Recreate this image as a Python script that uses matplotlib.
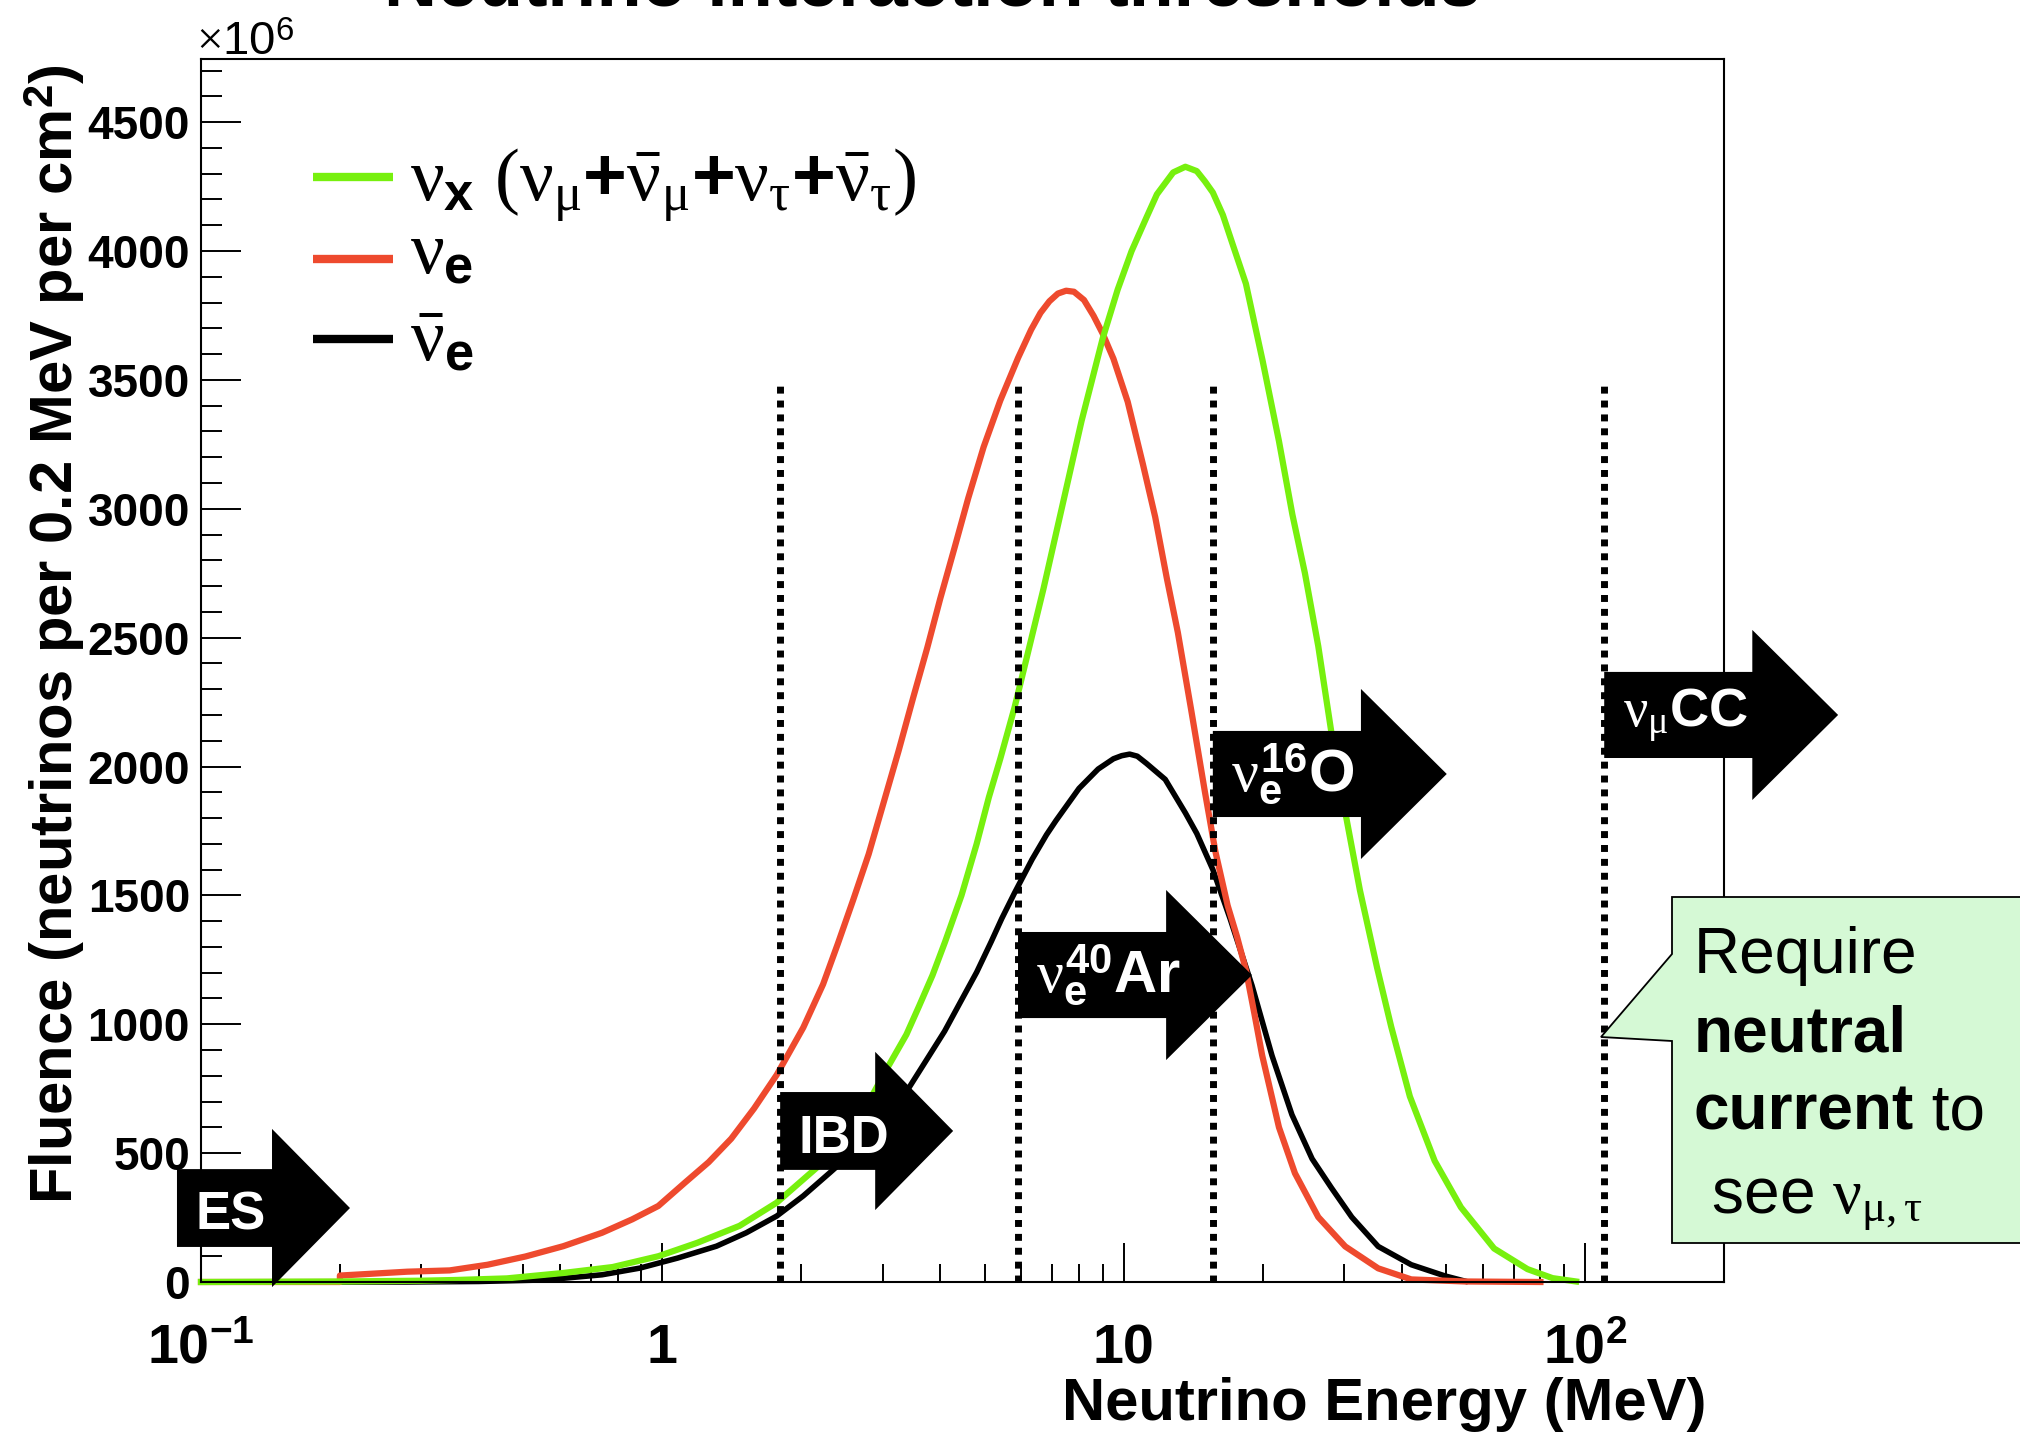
import matplotlib
matplotlib.use('Agg')
import matplotlib.pyplot as plt
from matplotlib.patches import Polygon
from matplotlib.lines import Line2D
from matplotlib.text import Annotation
from matplotlib.ticker import FixedLocator, MultipleLocator, NullFormatter
from matplotlib import font_manager

# --- values (E in MeV, fluence in 1e6 per 0.2 MeV per cm^2) ---
nux_E = [0.1, 0.2, 0.3, 0.36, 0.46, 0.61, 0.78, 0.98, 1.19, 1.47,
         1.77, 1.91, 2.23, 2.49, 2.80, 3.07, 3.38, 3.6, 3.85, 4.1,
         4.45, 4.8, 5.1, 5.4, 5.8, 6.1, 6.7, 7.4, 8.1, 9.0,
         9.7, 10.4, 11.2, 11.8, 12.8, 13.6, 14.4, 15.0, 15.6, 16.4,
         17.2, 18.4, 20.0, 21.7, 23.2, 24.7, 26.4, 28.2, 30.3, 32.5,
         35.4, 38.0, 41.7, 47.2, 53.8, 63.5, 75.0, 85.0, 95.6]
nux_F = [0, 2, 5, 8, 14, 35, 58, 100, 152, 218,
         308, 360, 465, 569, 699, 829, 960, 1070, 1190, 1320,
         1500, 1700, 1880, 2030, 2230, 2390, 2690, 3030, 3340, 3660,
         3850, 4000, 4130, 4220, 4305, 4327, 4310, 4270, 4227, 4140,
         4029, 3873, 3574, 3262, 2978, 2750, 2467, 2130, 1810, 1520,
         1220, 990, 720, 470, 290, 130, 50, 15, 2]

nue_E = [0.1, 0.2, 0.2, 0.28, 0.346, 0.418, 0.505, 0.61, 0.74, 0.86,
         0.98, 1.12, 1.26, 1.41, 1.58, 1.77, 2.02, 2.23, 2.40, 2.59,
         2.80, 3.0, 3.25, 3.5, 3.75, 4.0, 4.3, 4.6, 4.97, 5.4,
         5.9, 6.3, 6.6, 6.9, 7.2, 7.5, 7.8, 8.2, 8.6, 9.0,
         9.5, 10.2, 11.0, 11.7, 12.4, 13.1, 14.0, 15.0, 15.8, 16.8,
         17.6, 18.4, 19.2, 19.95, 21.7, 23.5, 26.4, 30.2, 35.6, 42.0,
         55.0, 80.0]
nue_F = [0, 0, 25, 40, 45, 67, 99, 139, 191, 243,
         295, 386, 465, 556, 673, 804, 987, 1155, 1312, 1481,
         1660, 1845, 2060, 2270, 2460, 2650, 2850, 3040, 3240, 3420,
         3585, 3695, 3760, 3805, 3835, 3846, 3842, 3810, 3749, 3680,
         3582, 3415, 3174, 2968, 2730, 2520, 2220, 1900, 1670, 1460,
         1340, 1210, 1040, 880, 600, 422, 252, 138, 53, 10,
         2, 0]

nuebar_E = [0.1, 0.28, 0.4, 0.556, 0.74, 0.894, 1.08, 1.31, 1.52, 1.77,
            2.02, 2.31, 2.69, 3.07, 3.38, 3.72, 4.09, 4.45, 4.8, 5.16,
            5.44, 5.8, 6.33, 6.8, 7.13, 8.0, 8.8, 9.5, 9.9, 10.3,
            10.7, 11.2, 12.3, 13.6, 14.4, 15.6, 17.0, 18.97, 20.96, 23.15,
            25.6, 28.2, 31.2, 35.6, 42.0, 49.6, 55.0]
nuebar_F = [0, 0, 2, 8, 28, 54, 93, 139, 191, 256,
            334, 425, 530, 647, 738, 856, 973, 1094, 1202, 1320,
            1410, 1510, 1640, 1735, 1790, 1915, 1990, 2030, 2042, 2048,
            2040, 2012, 1950, 1820, 1740, 1600, 1410, 1150, 878, 649,
            478, 365, 252, 138, 67, 24, 3]

# interaction thresholds (MeV), dotted lines drawn up to 3500
thresholds = [1.8, 5.9, 15.6, 110.0]
threshold_top = 3500

# block arrows: label, left edge (MeV), centre height
arrow_labels = ['ES', 'IBD',
                r'$\nu_{\mathbf{e}}^{\mathbf{40}}$Ar',
                r'$\nu_{\mathbf{e}}^{\mathbf{16}}$O',
                r'$\nu_{\mu}$CC']
arrow_E0 = [0.0887, 1.8, 5.9, 15.6, 110.0]
arrow_yc = [287, 586, 1191, 1971, 2200]
arrow_big = [False, False, True, True, True]

xticks = [0.1, 1, 10, 100]
xticklabels = [r'$\mathbf{10^{-1}}$', '1', '10', r'$\mathbf{10^{2}}$']
yticks = [0, 500, 1000, 1500, 2000, 2500, 3000, 3500, 4000, 4500]

legend_labels = [r'$\nu_{\mathbf{x}}\ (\nu_{\mu}$+$\bar{\nu}_{\mu}$+$\nu_{\tau}$+$\bar{\nu}_{\tau})$',
                 r'$\nu_{\mathbf{e}}$',
                 r'$\bar{\nu}_{\mathbf{e}}$']
GREEN = '#77f00e'
RED = '#ee4a2e'
BLACK = '#000000'

# --- fonts ---
plt.rcParams['font.family'] = ['Liberation Sans', 'DejaVu Sans']
plt.rcParams['mathtext.fontset'] = 'custom'
plt.rcParams['mathtext.rm'] = 'Liberation Serif'
plt.rcParams['mathtext.it'] = 'Liberation Serif'
plt.rcParams['mathtext.bf'] = 'Liberation Sans:bold'
plt.rcParams['mathtext.sf'] = 'Liberation Sans'
plt.rcParams['mathtext.fallback'] = 'stix'

names = {f.name for f in font_manager.fontManager.ttflist}
narrow = 'Liberation Sans Narrow' if 'Liberation Sans Narrow' in names else None

W, H = 2020, 1432


def fx(x):
    return x / W


def fy(y):
    return 1 - y / H


fig = plt.figure(figsize=(W / 100, H / 100), dpi=100)
ax = fig.add_axes([fx(201), fy(1282), (1724 - 201) / W, (1282 - 59) / H])

ax.plot(nuebar_E, nuebar_F, color=BLACK, lw=4, zorder=2, clip_on=False)
ax.plot(nue_E, nue_F, color=RED, lw=4.5, zorder=2, clip_on=False)
ax.plot(nux_E, nux_F, color=GREEN, lw=4.5, zorder=2, clip_on=False)

ax.vlines(thresholds, 0, threshold_top, colors='k', linestyles=(0, (1, 1)),
          lw=5, zorder=3)

ax.set_xscale('log')
ax.set_xlim(0.1, 200)
ax.set_ylim(0, 4745)

# ROOT-like frame and ticks
for sp in ax.spines.values():
    sp.set_linewidth(1.5)
ax.xaxis.set_major_locator(FixedLocator(xticks))
ax.xaxis.set_minor_formatter(NullFormatter())
ax.tick_params(axis='x', which='major', direction='in', length=28, width=1.4,
               labelbottom=False, top=False)
ax.tick_params(axis='x', which='minor', direction='in', length=13, width=1.4, top=False)
ax.set_yticks(yticks)
ax.set_yticklabels([str(v) for v in yticks], fontsize=33, fontweight='bold')
ax.yaxis.set_minor_locator(MultipleLocator(100))
ax.tick_params(axis='y', which='major', direction='in', length=29, width=1.4,
               pad=8, right=False)
ax.tick_params(axis='y', which='minor', direction='in', length=15, width=1.4, right=False)

for e, lab in zip(xticks, xticklabels):
    ax.text(e, -81 / 1223, lab, transform=ax.get_xaxis_transform(), ha='center',
            va='baseline', fontsize=40, fontweight='bold')


# --- block arrows ---
def block_arrow(e0, yc, big, label):
    if big:
        body, head, bh, hh = 0.321, 0.186, 167, 330
    else:
        body, head, bh, hh = 0.206, 0.169, 151, 307
    e1 = e0 * 10 ** body
    e2 = e1 * 10 ** head
    verts = [(e0, yc - bh), (e1, yc - bh), (e1, yc - hh), (e2, yc),
             (e1, yc + hh), (e1, yc + bh), (e0, yc + bh)]
    ax.add_patch(Polygon(verts, closed=True, fc='black', ec='none',
                         zorder=6, clip_on=False))
    if '$' in label:
        dy, fs = 0, (39 if 'CC' in label else 43)
    else:
        dy, fs = -30, 38
    ax.text(e0 * 10 ** 0.04, yc + dy, label, ha='left', va='center', color='white',
            fontsize=fs, fontweight='bold', zorder=7, clip_on=False)


for lab, e0, yc, big in zip(arrow_labels, arrow_E0, arrow_yc, arrow_big):
    block_arrow(e0, yc, big, lab)

# --- legend (drawn by hand, ROOT style) ---
leg_colors = [GREEN, RED, BLACK]
leg_line_y = [177, 259, 339]
leg_text_y = [200, 273, 360]
for c, lab, ly, ty in zip(leg_colors, legend_labels, leg_line_y, leg_text_y):
    fig.add_artist(Line2D([fx(313), fx(393)], [fy(ly), fy(ly)], color=c, lw=6,
                          solid_capstyle='butt'))
    fig.text(fx(410), fy(ty), lab, fontsize=54, fontweight='bold', va='baseline')

# --- titles and axis labels ---
fig.text(fx(932), fy(6), 'Neutrino interaction thresholds', ha='center',
         va='baseline', fontsize=53, fontweight='bold')
fig.text(fx(196), fy(55), r'$\times$10$^{\mathsf{6}}$', ha='left', va='baseline',
         fontsize=34)
fig.text(fx(1707), fy(1420), 'Neutrino Energy (MeV)', ha='right', va='baseline',
         fontsize=43, fontweight='bold')
ylab = 'Fluence (neutrinos per 0.2 MeV per cm$^{\\mathbf{2}}$)'
if narrow:
    fig.text(fx(55), fy(634), ylab, rotation=90, ha='center', va='center',
             fontsize=52, fontweight='bold', family=[narrow, 'DejaVu Sans'])
else:
    fig.text(fx(55), fy(634), ylab, rotation=90, ha='center', va='center',
             fontsize=43, fontweight='bold')

# --- callout box ---
box_px = [(1672, 897), (2045, 897), (2045, 1243), (1672, 1243),
          (1672, 1041), (1601, 1037), (1672, 954)]
fig.add_artist(Polygon([(fx(x), fy(y)) for x, y in box_px], closed=True,
                       transform=fig.transFigure, fc='#d5f9d5', ec='black',
                       lw=1.3, zorder=10))
fig.text(fx(1694), fy(973), 'Require', fontsize=46, va='baseline', zorder=11)
fig.text(fx(1694), fy(1051), 'neutral', fontsize=46, fontweight='bold',
         va='baseline', zorder=11)
t_cur = fig.text(fx(1694), fy(1130), 'current', fontsize=46, fontweight='bold',
                 va='baseline', zorder=11)
fig.add_artist(Annotation(' to', xy=(1, 0), xycoords=t_cur, ha='left', va='bottom',
                          fontsize=46, zorder=11))
fig.text(fx(1694), fy(1212), r' see $\nu_{\mu,\tau}$', fontsize=46, va='baseline',
         zorder=11)

fig.savefig('out.png', dpi=100)
